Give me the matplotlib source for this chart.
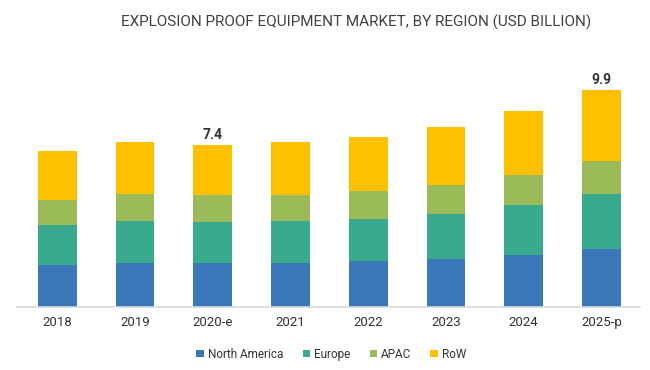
import matplotlib.pyplot as plt
import numpy as np

years = ["2018", "2019", "2020-e", "2021", "2022", "2023", "2024", "2025-p"]
north_america = [1.90, 2.01, 2.01, 2.01, 2.09, 2.18, 2.37, 2.63]
europe = [1.83, 1.90, 1.86, 1.90, 1.92, 2.05, 2.27, 2.51]
apac = [1.14, 1.23, 1.23, 1.19, 1.28, 1.31, 1.38, 1.52]
row = [2.24, 2.37, 2.28, 2.42, 2.45, 2.65, 2.89, 3.23]
labelled = {"2020-e": "7.4", "2025-p": "9.9"}

series = [("North America", north_america, "#3A78B8"),
          ("Europe", europe, "#3AAA8F"),
          ("APAC", apac, "#9BBB59"),
          ("RoW", row, "#FFC000")]

plt.rcParams['font.family'] = ['Roboto', 'DejaVu Sans']

fig = plt.figure(figsize=(6.5, 3.7), dpi=100)
ax = fig.add_axes([0.026, 0.171, 0.959, 0.622])

x = np.arange(len(years))
bottom = np.zeros(len(years))
for name, vals, color in series:
    ax.bar(x, vals, 0.5, bottom=bottom, color=color, label=name)
    bottom += np.array(vals)

for i, yr in enumerate(years):
    if yr in labelled:
        ax.text(x[i], bottom[i] + 0.12, labelled[yr], ha="center", va="bottom",
                fontsize=10, fontweight="bold", color="#333333")

ax.set_xlim(-0.52, 7.5)
ax.set_ylim(0, 10.5)
ax.set_xticks(x)
ax.set_xticklabels(years, fontsize=9.5, color="#333333")
ax.tick_params(axis="x", length=0, pad=7)
ax.set_yticks([])
for s in ["top", "right", "left"]:
    ax.spines[s].set_visible(False)
ax.spines["bottom"].set_color("#D9D9D9")
ax.spines["bottom"].set_linewidth(1.2)

fig.text(0.548, 0.94, "EXPLOSION PROOF EQUIPMENT MARKET, BY REGION (USD BILLION)",
         ha="center", va="center", fontsize=11, color="#404040", fontstretch="condensed")

leg = fig.legend(loc="center", bbox_to_anchor=(0.51, 0.043), ncol=4, frameon=False,
                 fontsize=8.5, handlelength=0.6, handleheight=0.6, handletextpad=0.4,
                 columnspacing=1.6)
for t in leg.get_texts():
    t.set_color("#333333")

fig.savefig("out.png", dpi=100)
